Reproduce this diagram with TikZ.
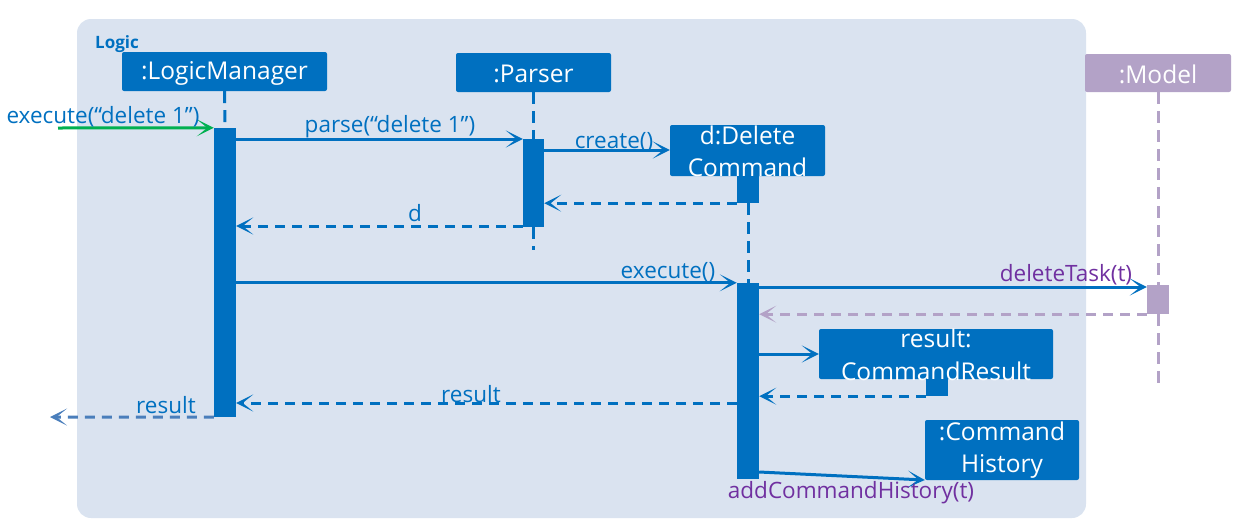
\documentclass[tikz,border=0pt]{standalone}
\usepackage{fontspec}
\setmainfont{Open Sans}
\usetikzlibrary{arrows.meta}
\definecolor{ublue}{HTML}{0070C0}
\definecolor{panel}{HTML}{DAE3F0}
\definecolor{lav}{HTML}{B3A2C7}
\definecolor{purp}{HTML}{7030A0}
\definecolor{ugreen}{HTML}{00B050}
\definecolor{outblue}{HTML}{4A7EBB}
\tikzset{
  objbox/.style={fill=ublue, rounded corners=2pt, inner sep=0pt, draw=none},
  objtext/.style={text=white, align=center, inner sep=0pt, font=\fontsize{24.5}{32.5}\selectfont},
  actbar/.style={fill=ublue, inner sep=0pt, draw=none},
  msgtext/.style={text=ublue, inner sep=0pt, font=\fontsize{22.5}{25}\selectfont},
  tip/.style={-{Stealth[length=17pt,width=17pt,inset=10.5pt]}},
  call/.style={draw=ublue, line width=3pt, tip},
  reply/.style={draw=ublue, line width=3pt, tip, dash pattern=on 10pt off 7pt},
  life/.style={draw=ublue, line width=3pt, dash pattern=on 12pt off 7pt},
}
\begin{document}
\begin{tikzpicture}[x=1pt, y=-1pt]
\useasboundingbox (0,0) rectangle (1239,523);

% Logic component frame
\fill[panel, rounded corners=14pt] (77,19) rectangle (1086,518);
\node[anchor=west, text=ublue, inner sep=0pt, font=\bfseries\fontsize{17}{20}\selectfont] (logiclbl) at (95,44) {Logic};

% object heads
\node[objbox, minimum width=205pt, minimum height=39pt] (lm) at (224.5,71.5) {};
\node[objtext] (lmtxt) at ([yshift=-1.5pt]lm.center) {:LogicManager};
\node[objbox, minimum width=155pt, minimum height=39pt] (parser) at (533.5,72.5) {};
\node[objtext] (parsertxt) at ([yshift=-1.5pt]parser.center) {:Parser};
\node[objbox, minimum width=155pt, minimum height=51pt] (del) at (747.5,150.5) {};
\node[objtext] (deltxt) at ([yshift=-1pt]del.center) {d:Delete\\Command};
\node[objbox, fill=lav, minimum width=146pt, minimum height=38pt] (model) at (1158,73) {};
\node[objtext] (modeltxt) at ([yshift=-1.5pt]model.center) {:Model};
\node[objbox, minimum width=234pt, minimum height=50pt] (res) at (936,354) {};
\node[objtext] (restxt) at ([yshift=-1pt]res.center) {result:\\CommandResult};
\node[objbox, minimum width=154pt, minimum height=60pt] (hist) at (1002,450) {};
\node[objtext] (histtxt) at (hist.center) {:Command\\History};

% activation bars
\node[actbar, minimum width=22pt, minimum height=289pt] (lmact) at (225,272.5) {};
\node[actbar, minimum width=21pt, minimum height=88pt] (pact) at (533.5,183) {};
\node[actbar, minimum width=22pt, minimum height=27pt] (dact1) at (748,189.5) {};
\node[actbar, minimum width=22pt, minimum height=196pt] (dact2) at (748,381) {};
\node[actbar, fill=lav, minimum width=22pt, minimum height=29pt] (mact) at (1158,299.5) {};
\node[actbar, minimum width=22pt, minimum height=17pt] (ract) at (937,387.5) {};

% lifelines
\draw[life] (lm.south) -- (lmact.north);
\coordinate (pend) at (533.5,250);
\draw[life] (parser.south) -- (pact.north);
\draw[life] (pact.south) -- (pend);
\draw[life] (dact1.south) -- (dact2.north);
\coordinate (mend) at (1158,386);
\draw[life, draw=lav] (model.south) -- (mact.north);
\draw[life, draw=lav] (mact.south) -- (mend);

% messages
\coordinate (start) at (58,128);
\draw[draw=ugreen, line width=3pt, tip] (start) -- (lmact.north west);
\node[msgtext] (l1) at (103,117) {execute(“delete 1”)};

\draw[call] (lmact.east |- 0,139) -- (pact.west |- 0,139);
\node[msgtext] (l2) at (390,127) {parse(“delete 1”)};

\draw[call] (pact.east |- 0,150) -- (del.west |- 0,150);
\node[msgtext] (l3) at (614,142) {create()};

\draw[reply] (dact1.south west) -- (pact.east |- dact1.south);

\draw[reply] (pact.west |- 0,226) -- (lmact.east |- 0,226);
\node[msgtext] (l4) at (415,213) {d};

\draw[call] (lmact.east |- dact2.north) -- (dact2.north west);
\node[msgtext] (l5) at (668,272) {execute()};

\draw[call] (dact2.east |- 0,287) -- (mact.west |- 0,287);
\node[msgtext, text=purp] (l6) at (1066,275) {deleteTask(t)};

\draw[reply, draw=lav] (mact.south west) -- (dact2.east |- mact.south);

\draw[call] (dact2.east |- res.west) -- (res.west);

\draw[reply] (ract.south west) -- (dact2.east |- ract.south);

\draw[reply] (dact2.west |- 0,403) -- (lmact.east |- 0,403);
\node[msgtext] (l7) at (471,394) {result};

\coordinate (outend) at (50,417);
\draw[reply, draw=outblue] (lmact.south west) -- (outend);
\node[msgtext] (l8) at (166,405) {result};

\draw[call] (dact2.east |- 0,472) -- (hist.west |- 0,480);
\node[msgtext, text=purp] (l9) at (851,493) {addCommandHistory(t)};
\end{tikzpicture}
\end{document}
